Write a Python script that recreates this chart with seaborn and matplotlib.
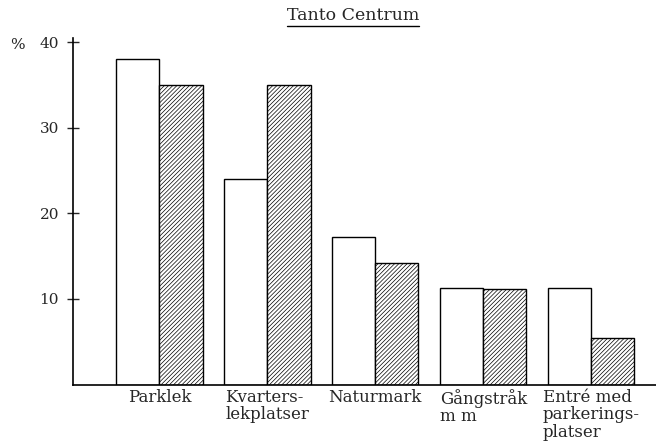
import matplotlib
matplotlib.use("Agg")
import matplotlib.pyplot as plt
from matplotlib.lines import Line2D
import seaborn as sns
import pandas as pd

categories = ["Parklek", "Kvarters-\nlekplatser", "Naturmark", "Gångstråk\nm m", "Entré med\nparkerings-\nplatser"]
series_names = ["A", "B"]
values_a = [38, 24, 17.2, 11.3, 11.3]
values_b = [35, 35, 14.2, 11.2, 5.4]
yticks = [10, 20, 30, 40]
title = "Tanto Centrum"

sns.set_theme(style="white")
plt.rcParams["font.family"] = ["DejaVu Serif"]
plt.rcParams["hatch.linewidth"] = 0.5

df = pd.DataFrame({
    "cat": categories * 2,
    "serie": [series_names[0]] * len(categories) + [series_names[1]] * len(categories),
    "val": values_a + values_b,
})

fig = plt.figure(figsize=(6.56, 4.48), dpi=100)
ax = fig.add_axes([73 / 656, 1 - 384.5 / 448, (656 - 73) / 656, (384.5 - 38) / 448])

sns.barplot(data=df, x="cat", y="val", hue="serie", order=categories,
            hue_order=series_names, palette=["white", "white"], edgecolor="black",
            linewidth=1.0, width=0.8, legend=False, ax=ax)

for p in ax.containers[1].patches:
    p.set_hatch("////////")
    p.set_facecolor("white")
    p.set_edgecolor("black")

ax.set_xlim(-0.80, 4.6)
ax.set_ylim(0, 40.5)
ax.set_yticks(yticks)
ax.set_yticklabels([str(t) for t in yticks], fontsize=11)
ax.tick_params(axis="y", direction="inout", length=8, width=1.0, left=True, pad=6)
ax.tick_params(axis="x", length=0, pad=3)
ax.set_xticks(range(len(categories)))
ax.set_xticklabels(categories, fontsize=12, ha="center", va="top", multialignment="left",
                   linespacing=1.05)
ax.set_xlabel("")
ax.set_ylabel("")
for s in ["top", "right"]:
    ax.spines[s].set_visible(False)
for s in ["left", "bottom"]:
    ax.spines[s].set_color("black")
    ax.spines[s].set_linewidth(1.2)
ax.set_facecolor("white")
fig.patch.set_facecolor("white")

fig.text(10 / 656, 1 - 45 / 448, "%", fontsize=11, ha="left", va="center")
t = fig.text(353 / 656, 1 - 16 / 448, title, fontsize=12.5, ha="center", va="center")

fig.canvas.draw()
bb = t.get_window_extent(renderer=fig.canvas.get_renderer())
y_line = (bb.y0 - 2) / fig.bbox.height
fig.add_artist(Line2D([bb.x0 / fig.bbox.width, bb.x1 / fig.bbox.width], [y_line, y_line],
                      transform=fig.transFigure, color="black", linewidth=1.0))

fig.savefig("out.png", dpi=100, facecolor="white")
